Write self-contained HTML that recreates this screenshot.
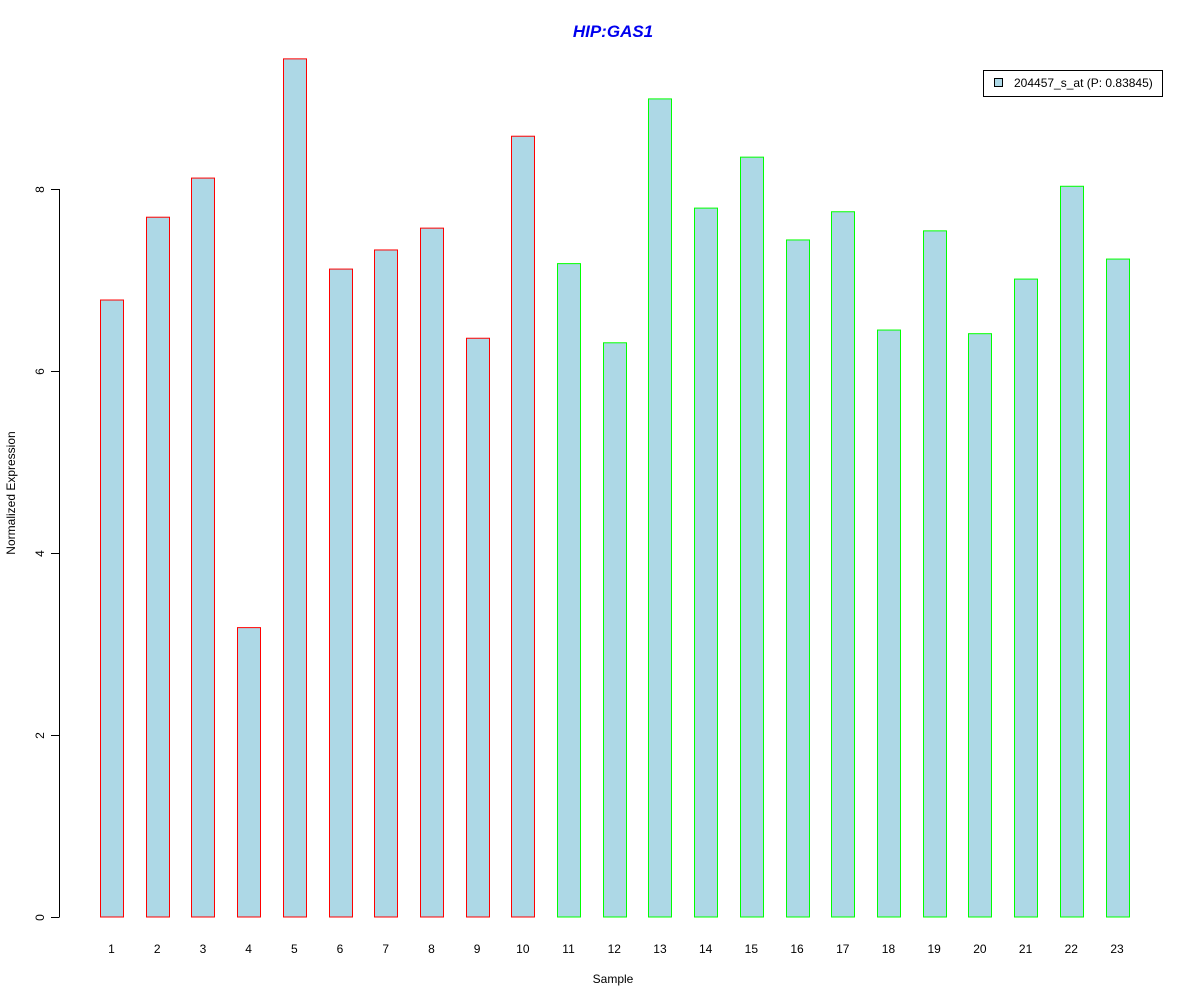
<!DOCTYPE html>
<html><head><meta charset="utf-8"><style>
html,body{margin:0;padding:0;background:#fff;}
svg{display:block;font-family:"Liberation Sans",Arial,sans-serif;}
</style></head><body>
<svg id="chart" width="1200" height="1000">
<text x="613" y="37" text-anchor="middle" font-size="17" font-weight="bold" font-style="italic" fill="#0000ee">HIP:GAS1</text>
<text x="613" y="983" text-anchor="middle" font-size="12">Sample</text>
<text transform="translate(15,493) rotate(-90)" text-anchor="middle" font-size="12">Normalized Expression</text>
<g id="yaxis"></g>
<g id="bars"></g>
<g id="xlabels"></g>
<g>
<rect x="983.5" y="70.5" width="179" height="26" fill="#fff" stroke="#000"/>
<rect x="994.5" y="78.5" width="8" height="8" fill="#add8e6" stroke="#000"/>
<text x="1014" y="87" font-size="12">204457_s_at (P: 0.83845)</text>
</g>
</svg>
<script>
const categories=["1","2","3","4","5","6","7","8","9","10","11","12","13","14","15","16","17","18","19","20","21","22","23"];
const values=[6.78,7.69,8.12,3.18,9.43,7.12,7.33,7.57,6.36,8.58,7.18,6.31,8.99,7.79,8.35,7.44,7.75,6.45,7.54,6.41,7.01,8.03,7.23];
const groups=["a","a","a","a","a","a","a","a","a","a","b","b","b","b","b","b","b","b","b","b","b","b","b"];
const yTicks=[0,2,4,6,8];
const NS="http://www.w3.org/2000/svg";
const y0=917,pxPerUnit=91;
function yScale(v){return y0-v*pxPerUnit;}
function xCenter(i){return 111.5+i*(1117-111.5)/(categories.length-1);}
function mk(t,a,p){const e=document.createElementNS(NS,t);for(const k in a)e.setAttribute(k,a[k]);p.appendChild(e);return e;}
const ya=document.getElementById('yaxis');
mk('line',{x1:59.5,x2:59.5,y1:yScale(yTicks[0]),y2:yScale(yTicks[yTicks.length-1]),stroke:'#000'},ya);
yTicks.forEach(t=>{
  const y=Math.round(yScale(t))+0.5;
  const l=mk('line',{x1:51,x2:59.5,y1:y,y2:y,stroke:'#000'},ya);
  
  
  const tx=mk('text',{transform:`translate(44,${y}) rotate(-90)`,'text-anchor':'middle','font-size':12},ya);
  
  
  tx.textContent=t;
});
const bg=document.getElementById('bars'),xl=document.getElementById('xlabels');
values.forEach((v,i)=>{
  const cx=xCenter(i);
  const r=mk('rect',{x:Math.round(cx-11.5)+0.5,y:yScale(v),width:23,height:y0-yScale(v),fill:'#add8e6',stroke:groups[i]==='a'?'#ff0000':'#00ff00'},bg);
  
  
  const t=mk('text',{x:cx,y:953,'text-anchor':'middle','font-size':12},xl);
  
  
  t.textContent=categories[i];
});
</script>
</body></html>
